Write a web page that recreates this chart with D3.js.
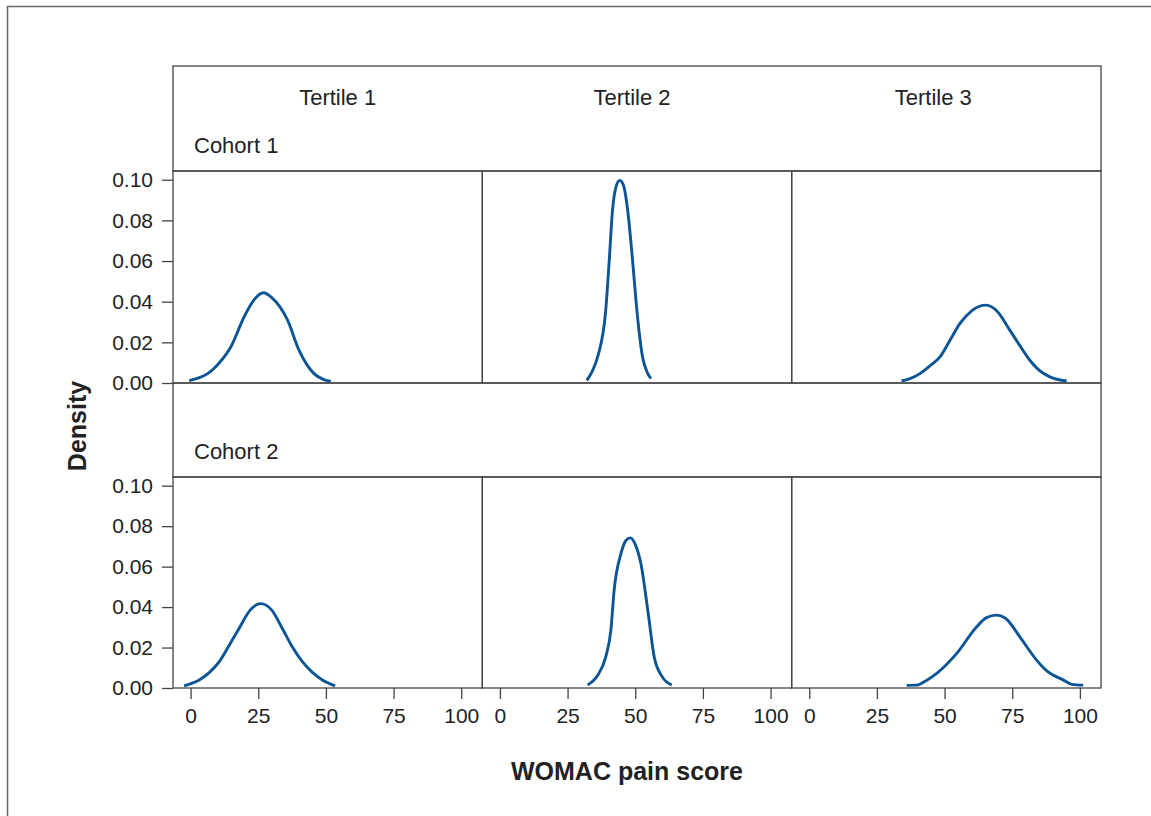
<html>
<head>
<script src="https://d3js.org/d3.v7.min.js"></script>
<style>
  body { margin: 0; background: #fff; }
  svg text { font-family: "Liberation Sans", Arial, Helvetica, sans-serif; fill: #222; }
</style>
</head>
<body>
<div id="chart"></div>
<script>
// facet labels
const cohorts = ["Cohort 1", "Cohort 2"];
const tertiles = ["Tertile 1", "Tertile 2", "Tertile 3"];
const xTicks = [0, 25, 50, 75, 100];
const yTicks = [0, 0.02, 0.04, 0.06, 0.08, 0.10];

// density curves: [WOMAC pain score, density]
const c1t1 = [[-0.5, 0.0012], [3, 0.0025], [6.3, 0.0046], [10, 0.009], [14.9, 0.0178], [19.8, 0.0326], [23.5, 0.041], [26.9, 0.0444], [30, 0.042], [35.8, 0.031], [40.1, 0.016], [45.6, 0.0046], [49, 0.0018], [51.8, 0.0008]];
const c1t2 = [[32.1, 0.0013], [34, 0.0055], [36.1, 0.0128], [39.1, 0.0359], [40.4, 0.0605], [41.6, 0.085], [43, 0.097], [44.3, 0.0997], [45.7, 0.097], [47.2, 0.085], [49.0, 0.0605], [50.6, 0.0359], [52.7, 0.0128], [54.5, 0.005], [55.8, 0.0022]];
const c1t3 = [[34.1, 0.001], [37, 0.002], [40.9, 0.0046], [44.5, 0.0083], [48.3, 0.0128], [52, 0.021], [55.7, 0.0293], [60, 0.0355], [65.3, 0.0383], [69.5, 0.0352], [74.1, 0.026], [78, 0.018], [81.5, 0.0112], [85, 0.0062], [88.9, 0.003], [95.1, 0.001]];
const c2t1 = [[-2.4, 0.0011], [3.2, 0.004], [7, 0.0077], [10.6, 0.013], [14, 0.0205], [17.9, 0.0294], [22, 0.0385], [25.9, 0.0417], [30, 0.0385], [33.9, 0.0294], [37.5, 0.0205], [41.3, 0.013], [45, 0.0077], [48.7, 0.004], [53.4, 0.0011]];
const c2t2 = [[32.4, 0.0015], [36, 0.006], [39.1, 0.0154], [41.0, 0.0286], [42.2, 0.0483], [44.7, 0.0663], [46.5, 0.0728], [48.2, 0.0742], [50, 0.071], [52.1, 0.0614], [54.8, 0.0368], [57.0, 0.0154], [60, 0.0055], [63.5, 0.0015]];
const c2t3 = [[36.0, 0.0013], [39.7, 0.0014], [43, 0.0035], [47.1, 0.0072], [54.5, 0.0171], [61.8, 0.0302], [65.5, 0.0348], [69.2, 0.036], [72.5, 0.0345], [77.8, 0.0253], [84.0, 0.0138], [88, 0.0082], [93.8, 0.004], [97, 0.0018], [101.2, 0.0014]];
const curves = [[c1t1, c1t2, c1t3], [c2t1, c2t2, c2t3]];

const W = 1151, H = 816;
const plotLeft = 173, plotRight = 1101;
const colW = (plotRight - plotLeft) / 3;
const rows = [
  { stripTop: 66, panelTop: 171, panelBottom: 383 },
  { stripTop: 383, panelTop: 477, panelBottom: 688 }
];
// the tertile headings sit a little off the column centres
const headShift = [10, -5, -13];
const frameColor = "#444";
const lineColor = "#0b5596";

const svg = d3.select("#chart").append("svg")
  .attr("width", W)
  .attr("height", H);

// outer figure frame
svg.append("path")
  .attr("d", `M7.5,${H + 5}V6.5H${W + 5}`)
  .attr("fill", "none")
  .attr("stroke", "#666")
  .attr("stroke-width", 1.5);

const line = d3.line().curve(d3.curveMonotoneX);

rows.forEach((r, ri) => {
  const y = d3.scaleLinear().domain([0, 0.1043]).range([r.panelBottom, r.panelTop]);

  // strip rectangle (no column dividers)
  svg.append("rect")
    .attr("x", plotLeft).attr("y", r.stripTop)
    .attr("width", plotRight - plotLeft).attr("height", r.panelTop - r.stripTop)
    .attr("fill", "none").attr("stroke", frameColor).attr("stroke-width", 1.3);

  svg.append("text")
    .attr("x", 194).attr("y", r.panelTop - 18)
    .attr("font-size", 22)
    .text(cohorts[ri]);

  // y axis on the left column
  const yAxis = svg.append("g")
    .attr("transform", `translate(${plotLeft},0)`)
    .call(d3.axisLeft(y).tickValues(yTicks).tickFormat(d3.format(".2f")).tickSize(11).tickPadding(9));
  yAxis.select(".domain").remove();
  yAxis.selectAll("line").attr("stroke", frameColor).attr("stroke-width", 1.3);
  yAxis.selectAll("text").attr("font-size", 21).attr("fill", "#222");

  tertiles.forEach((t, ci) => {
    const x0 = plotLeft + ci * colW;
    const x = d3.scaleLinear().domain([-6.5, 107.8]).range([x0, x0 + colW]);

    svg.append("rect")
      .attr("x", x0).attr("y", r.panelTop)
      .attr("width", colW).attr("height", r.panelBottom - r.panelTop)
      .attr("fill", "none").attr("stroke", frameColor).attr("stroke-width", 1.3);

    svg.append("path")
      .datum(curves[ri][ci])
      .attr("d", line.x(d => x(d[0])).y(d => y(d[1])))
      .attr("fill", "none")
      .attr("stroke", lineColor)
      .attr("stroke-width", 2.9);

    if (ri === 0) {
      svg.append("text")
        .attr("x", x0 + colW / 2 + headShift[ci]).attr("y", 105)
        .attr("text-anchor", "middle")
        .attr("font-size", 22)
        .text(t);
    }

    if (ri === rows.length - 1) {
      const xAxis = svg.append("g")
        .attr("transform", `translate(0,${r.panelBottom})`)
        .call(d3.axisBottom(x).tickValues(xTicks).tickSize(11).tickPadding(9));
      xAxis.select(".domain").remove();
      xAxis.selectAll("line").attr("stroke", frameColor).attr("stroke-width", 1.3);
      xAxis.selectAll("text").attr("font-size", 21).attr("fill", "#222");
    }
  });
});

// axis titles
svg.append("text")
  .attr("x", 627).attr("y", 780)
  .attr("text-anchor", "middle")
  .attr("font-size", 25).attr("font-weight", "bold")
  .text("WOMAC pain score");

svg.append("text")
  .attr("transform", "translate(86,426) rotate(-90)")
  .attr("text-anchor", "middle")
  .attr("font-size", 25).attr("font-weight", "bold")
  .text("Density");
</script>
</body>
</html>
